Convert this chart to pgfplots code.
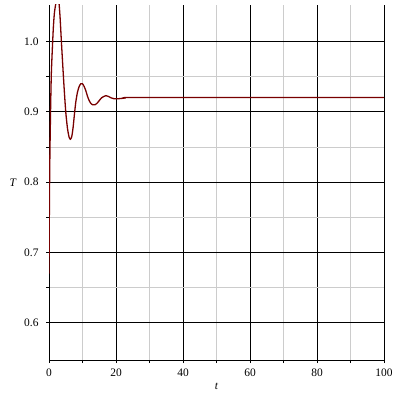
\documentclass[border=0pt]{standalone}
\usepackage{fontspec}
\setmainfont{Liberation Serif}
\usepackage{pgfplots}
\pgfplotsset{compat=1.18}

\begin{document}
\begin{tikzpicture}
\begin{axis}[
    name=ax,
    scale only axis,
    width=335bp, height=355bp,
    xmin=0, xmax=100,
    ymin=0.547, ymax=1.052,
    axis lines*=left,
    xtick={0,20,...,100},
    ytick={0.6,0.7,0.8,0.9,1.0},
    minor tick num=1,
    tick align=outside,
    major tick length=3bp,
    minor tick length=3bp,
    grid=both,
    major grid style={black, line width=0.8bp},
    minor grid style={gray!40, line width=0.8bp},
    axis line style={black, line width=0.8bp},
    tick style={black, line width=0.8bp},
    font=\fontsize{11.5}{13}\selectfont,
    /pgf/number format/assume math mode=true,
    yticklabel style={xshift=-4bp, /pgf/number format/fixed, /pgf/number format/fixed zerofill, /pgf/number format/precision=1},
    xticklabel style={yshift=-2bp},
    xlabel={\textit{t}},
    ylabel={\textit{T}},
    x label style={at={(axis description cs:0.5,0)}, anchor=center, yshift=-26bp},
    y label style={at={(axis description cs:-0.107,0.5)}, rotate=-90, anchor=center},
    clip=true,
]
\addplot[color={rgb,255:red,120;green,0;blue,0}, line width=1.3bp, smooth, tension=0.4] table {
t T
0 0.67
0.1 0.75
0.2 0.81
0.3 0.85
0.5 0.91
0.7 0.955
1.0 0.99
1.3 1.02
1.6 1.04
2.0 1.053
2.4 1.059
2.7 1.06
3.0 1.054
3.3 1.035
3.7 1.0
4.0 0.975
4.5 0.935
5.0 0.9
5.5 0.877
6.0 0.864
6.4 0.861
6.8 0.865
7.2 0.878
7.6 0.897
8.0 0.914
8.5 0.928
9.0 0.936
9.5 0.94
10.0 0.94
10.5 0.936
11.0 0.93
11.5 0.922
12.0 0.916
12.5 0.912
13.0 0.910
13.7 0.910
14.3 0.912
15.0 0.916
15.7 0.920
16.4 0.922
17.0 0.923
17.7 0.922
18.5 0.920
19.3 0.9188
20.3 0.9186
21.5 0.919
22.4 0.9195
22.6 0.9204
30 0.9204
60 0.9204
100 0.9204
};
\end{axis}
\path ([shift={(-49bp,-40bp)}]ax.south west) rectangle ([shift={(16bp,5bp)}]ax.north east);
\end{tikzpicture}
\end{document}
